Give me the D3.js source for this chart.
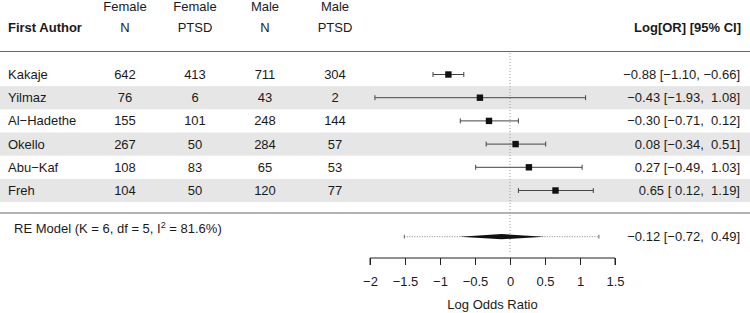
<!DOCTYPE html>
<html>
<head>
<meta charset="utf-8">
<script src="https://cdn.jsdelivr.net/npm/d3@7"></script>
<style>
  body { margin: 0; background: #fff; }
  text { font-family: "Liberation Sans", Arial, sans-serif; font-size: 13px; fill: #1a1a1a; }
</style>
</head>
<body>
<div id="chart"></div>
<script>
// Forest plot: PTSD by gender

const authors = ["Kakaje", "Yilmaz", "Al\u2212Hadethe", "Okello", "Abu\u2212Kaf", "Freh"];
const femaleN = [642, 76, 155, 267, 108, 104];
const femalePTSD = [413, 6, 101, 50, 83, 50];
const maleN = [711, 43, 248, 284, 65, 120];
const malePTSD = [304, 2, 144, 57, 53, 77];
const est = [-0.88, -0.43, -0.30, 0.08, 0.27, 0.65];
const lower = [-1.10, -1.93, -0.71, -0.34, -0.49, 0.12];
const upper = [-0.66, 1.08, 0.12, 0.51, 1.03, 1.19];

const reEst = -0.12, reLower = -0.72, reUpper = 0.49;
const piLower = -1.51, piUpper = 1.27;
const reLabel = ["RE Model (K = 6, df = 5, I", "2", " = 81.6%)"];

const ticks = [-2, -1.5, -1, -0.5, 0, 0.5, 1, 1.5];
const tickLabels = ["\u22122", "\u22121.5", "\u22121", "\u22120.5", "0", "0.5", "1", "1.5"];

const width = 750, height = 313;

const svg = d3.select("#chart")
    .append("svg")
    .attr("width", width)
    .attr("height", height);

const x = d3.scaleLinear()
    .domain([-2, 1.5])
    .range([370, 615]);

const y = d3.scaleLinear()
    .domain([0, 5])
    .range([74.5, 190.5]);

const rowH = 23.2;

const fmt = v => (v < 0 ? "\u2212" : " ") + Math.abs(v).toFixed(2);
const ciText = (e, l, u) => fmt(e).trim() + " [" + fmt(l) + ", " + fmt(u) + "]";

// zebra bands
svg.append("g")
    .selectAll("rect")
    .data(d3.range(authors.length).filter(i => i % 2 === 1))
    .join("rect")
    .attr("x", 0)
    .attr("y", i => y(i) - rowH / 2)
    .attr("width", width)
    .attr("height", rowH)
    .attr("fill", "#e6e6e6");

// horizontal rules
svg.append("line")
    .attr("x1", 0).attr("x2", width)
    .attr("y1", 51.5).attr("y2", 51.5)
    .attr("stroke", "#666").attr("stroke-width", 1.2);
svg.append("line")
    .attr("x1", 0).attr("x2", width)
    .attr("y1", 213).attr("y2", 213)
    .attr("stroke", "#666").attr("stroke-width", 1.2);

// reference line at 0
svg.append("line")
    .attr("x1", x(0)).attr("x2", x(0))
    .attr("y1", 53).attr("y2", 253)
    .attr("stroke", "#999")
    .attr("stroke-dasharray", "1,2");

// header
const cols = [125, 195, 265, 335];
const head1 = ["Female", "Female", "Male", "Male"];
const head2 = ["N", "PTSD", "N", "PTSD"];
svg.append("text").attr("x", 8).attr("y", 31.5)
    .style("font-weight", "bold").text("First Author");
cols.forEach((cx, i) => {
    svg.append("text").attr("x", cx).attr("y", 10.5)
        .attr("text-anchor", "middle").text(head1[i]);
    svg.append("text").attr("x", cx).attr("y", 31.5)
        .attr("text-anchor", "middle").text(head2[i]);
});
svg.append("text").attr("x", 741).attr("y", 31.5)
    .attr("text-anchor", "end")
    .style("font-weight", "bold").text("Log[OR] [95% CI]");

// table rows
const rows = svg.append("g")
    .selectAll("g")
    .data(authors.map((a, i) => ({ a, i })))
    .join("g");

rows.append("text").attr("x", 8).attr("y", d => y(d.i) + 4.5).text(d => d.a);
[femaleN, femalePTSD, maleN, malePTSD].forEach((arr, c) => {
    rows.append("text")
        .attr("x", cols[c])
        .attr("y", d => y(d.i) + 4.5)
        .attr("text-anchor", "middle")
        .text(d => arr[d.i]);
});
rows.append("text")
    .attr("x", 740)
    .attr("y", d => y(d.i) + 4.5)
    .attr("text-anchor", "end")
    .style("white-space", "pre")
    .text(d => ciText(est[d.i], lower[d.i], upper[d.i]));

// CIs
rows.append("line")
    .attr("x1", d => x(lower[d.i])).attr("x2", d => x(upper[d.i]))
    .attr("y1", d => y(d.i)).attr("y2", d => y(d.i))
    .attr("stroke", "#444");
[lower, upper].forEach(arr => {
    rows.append("line")
        .attr("x1", d => x(arr[d.i])).attr("x2", d => x(arr[d.i]))
        .attr("y1", d => y(d.i) - 2.5).attr("y2", d => y(d.i) + 2.5)
        .attr("stroke", "#444");
});
rows.append("rect")
    .attr("x", d => x(est[d.i]) - 3.2)
    .attr("y", d => y(d.i) - 3.2)
    .attr("width", 6.4).attr("height", 6.4)
    .attr("fill", "#111");

// RE model
const reY = 236.7;
const re = svg.append("text").attr("x", 14).attr("y", 232.5);
re.append("tspan").text(reLabel[0]);
re.append("tspan").attr("dy", -5).style("font-size", "9px").text(reLabel[1]);
re.append("tspan").attr("dy", 5).text(reLabel[2]);

svg.append("line")
    .attr("x1", x(piLower)).attr("x2", x(piUpper))
    .attr("y1", reY).attr("y2", reY)
    .attr("stroke", "#888")
    .attr("stroke-dasharray", "1,1.5");
[piLower, piUpper].forEach(v => {
    svg.append("line")
        .attr("x1", x(v)).attr("x2", x(v))
        .attr("y1", reY - 2).attr("y2", reY + 2)
        .attr("stroke", "#666");
});
svg.append("polygon")
    .attr("points", [
        [x(reLower), reY], [x(reEst), reY - 2.6],
        [x(reUpper), reY], [x(reEst), reY + 2.6]
    ].map(p => p.join(",")).join(" "))
    .attr("fill", "#111");
svg.append("text")
    .attr("x", 740).attr("y", reY + 4.5)
    .attr("text-anchor", "end")
    .style("white-space", "pre")
    .text(ciText(reEst, reLower, reUpper));

// axis
const axis = svg.append("g")
    .attr("transform", "translate(0,258)")
    .call(d3.axisBottom(x).tickValues(ticks)
        .tickFormat((d, i) => tickLabels[i])
        .tickSize(7).tickPadding(12));
axis.select(".domain").attr("stroke", "#222").attr("d", `M${x(-2)},7V0H${x(1.5)}V7`);
axis.selectAll(".tick line").attr("stroke", "#222");
axis.selectAll(".tick text")
    .style("font-family", "Liberation Sans, Arial, sans-serif")
    .style("font-size", "13px")
    .attr("fill", "#1a1a1a");

svg.append("text")
    .attr("x", (x(-2) + x(1.5)) / 2)
    .attr("y", 309)
    .attr("text-anchor", "middle")
    .text("Log Odds Ratio");
</script>
</body>
</html>
